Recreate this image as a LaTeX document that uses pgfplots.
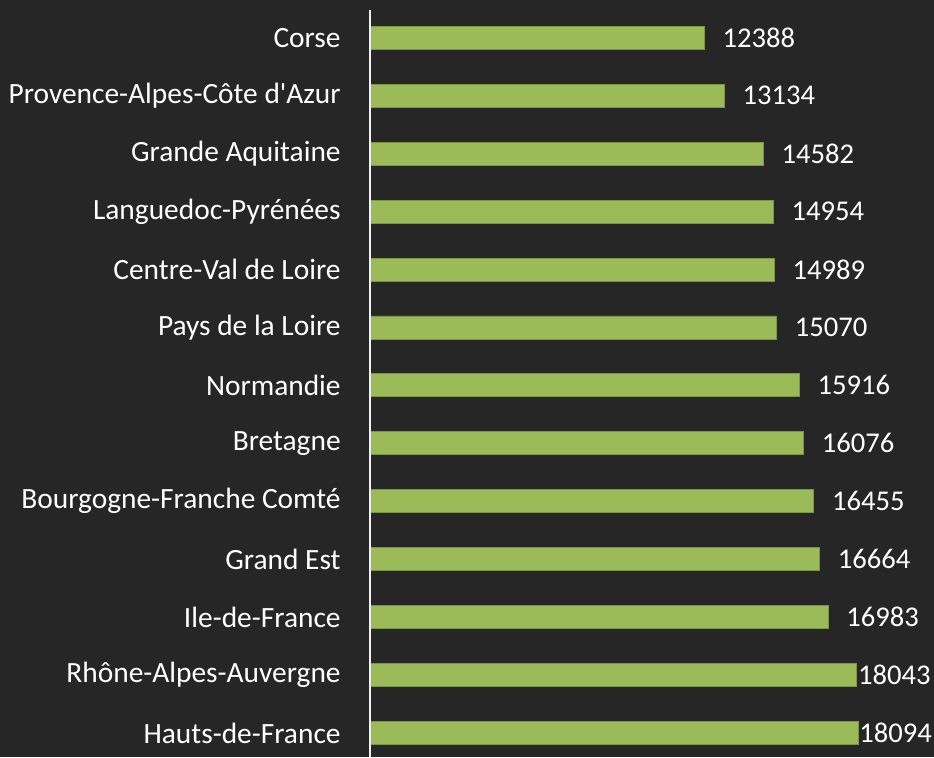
\documentclass[border=0pt]{standalone}
\usepackage{fontspec}
\setmainfont{Carlito}
\usepackage{pgfplots}
\pgfplotsset{compat=1.18}
\definecolor{bg}{HTML}{262626}
\definecolor{bargreen}{HTML}{9BBB59}
\newcommand{\lbl}{\fontsize{14.7}{17}\selectfont}
\newcommand{\vlbl}{\fontsize{14.3}{17}\selectfont}
\begin{document}
\begin{tikzpicture}
\fill[bg] (0,0) rectangle (467pt,-378.5pt);
\begin{axis}[
  at={(185pt,-378.5pt)}, anchor=south west,
  scale only axis, width=282pt, height=373.5pt,
  xmin=0, xmax=20912, ymin=-0.415, ymax=12.48,
  axis line style={draw=none},
  xtick=\empty, ytick={0,...,12},
  yticklabels={Hauts-de-France, Rhône-Alpes-Auvergne, Ile-de-France, Grand Est,
    Bourgogne-Franche Comté, Bretagne, Normandie, Pays de la Loire,
    Centre-Val de Loire, Languedoc-Pyrénées, Grande Aquitaine,
    Provence-Alpes-Côte d\textquotesingle Azur, Corse},
  major tick length=0pt,
  yticklabel style={font=\lbl, text=white, inner sep=0pt, xshift=-14.5pt},
  xbar, bar width=11.5pt, bar shift=0pt,
  clip=false,
  point meta=explicit symbolic,
  nodes near coords={\pgfplotspointmeta},
  nodes near coords align=horizontal,
  every node near coord/.append style={font=\vlbl, text=white, anchor=west, inner sep=0pt},
]
\addplot[fill=bargreen, draw=bargreen!80!black, line width=0.4pt,
  every node near coord/.append style={xshift=9pt}]
  coordinates {
  (16983,2) [16983]
  (16664,3) [16664]
  (16455,4) [16455]
  (16076,5) [16076]
  (15916,6) [15916]
  (15070,7) [15070]
  (14989,8) [14989]
  (14954,9) [14954]
  (14582,10) [14582]
  (13134,11) [13134]
  (12388,12) [12388]
  };
\addplot[fill=bargreen, draw=bargreen!80!black, line width=0.4pt,
  every node near coord/.append style={xshift=0.5pt}]
  coordinates {
  (18094,0) [18094]
  (18043,1) [18043]
  };
\draw[white!88!gray, line width=1pt] (rel axis cs:0,0) -- (rel axis cs:0,1);
\end{axis}
\pgfresetboundingbox
\useasboundingbox (0,0) rectangle (467pt,-378.5pt);
\end{tikzpicture}
\end{document}
